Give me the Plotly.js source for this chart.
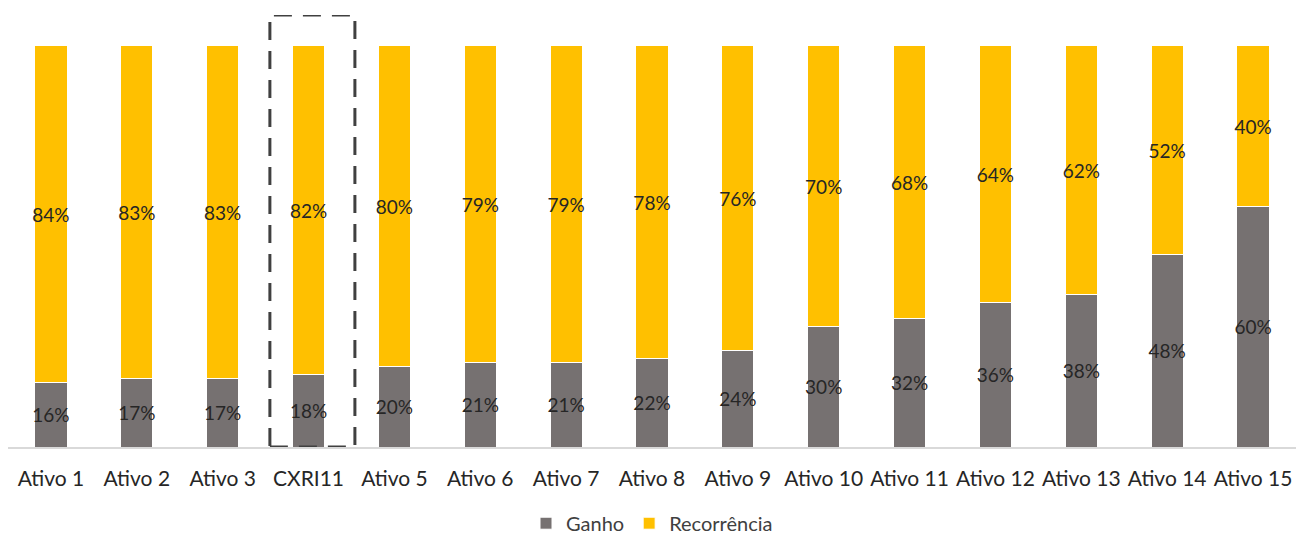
<!DOCTYPE html>
<html>
<head>
<meta charset="utf-8">
<script src="https://cdn.plot.ly/plotly-3.0.1.min.js"></script>
<style>html,body{margin:0;padding:0;background:#fff;}#chart{width:1296px;height:537px;}</style>
</head>
<body>
<div id="chart"></div>
<script>
const categories = ["Ativo 1","Ativo 2","Ativo 3","CXRI11","Ativo 5","Ativo 6","Ativo 7","Ativo 8","Ativo 9","Ativo 10","Ativo 11","Ativo 12","Ativo 13","Ativo 14","Ativo 15"];
const ganho = [16,17,17,18,20,21,21,22,24,30,32,36,38,48,60];
const recorrencia = [84,83,83,82,80,79,79,78,76,70,68,64,62,52,40];
const highlight = "CXRI11";

const FONT = "Lato, 'Open Sans', sans-serif";
const TXT = "#262626";

const common = {
  type: 'bar',
  x: categories,
  width: 0.375,
  textposition: 'inside',
  insidetextanchor: 'middle',
  textangle: 0,
  texttemplate: '%{y}%',
  textfont: {family: FONT, size: 19, color: TXT},
  hoverinfo: 'skip'
};

const traces = [
  Object.assign({}, common, {name: 'Ganho', y: ganho, marker: {color: '#767171', line: {color: '#ffffff', width: 1}}}),
  Object.assign({}, common, {name: 'Recorrência', y: recorrencia, marker: {color: '#FFC000', line: {color: '#ffffff', width: 1}}})
];

const hi = categories.indexOf(highlight);

const layout = {
  width: 1296, height: 537,
  margin: {l: 8, r: 0, t: 15, b: 90, autoexpand: false},
  barmode: 'stack',
  paper_bgcolor: '#fff', plot_bgcolor: '#fff',
  font: {family: FONT, color: TXT},
  uniformtext: {mode: 'show', minsize: 19},
  xaxis: {
    type: 'category', showline: true, linecolor: '#d9d9d9', linewidth: 2,
    ticks: '', showgrid: false, zeroline: false, automargin: false,
    tickfont: {family: FONT, size: 21, color: TXT}, ticklabelstandoff: 12
  },
  yaxis: {range: [0, 107.7], visible: false, showgrid: false, zeroline: false, automargin: false},
  showlegend: true,
  legend: {orientation: 'h', x: 0.5, xanchor: 'center', yref: 'container', y: 0.062, yanchor: 'top',
           font: {family: FONT, size: 20, color: '#404040'}, traceorder: 'normal', itemwidth: 30},
  shapes: [{
    type: 'rect', xref: 'x', yref: 'y',
    x0: hi - 0.45, x1: hi + 0.54, y0: 0, y1: 107.7,
    line: {color: '#404040', width: 3, dash: '18px,11px'}, fillcolor: 'rgba(0,0,0,0)', layer: 'above'
  }]
};

Plotly.newPlot('chart', traces, layout, {staticPlot: true, displayModeBar: false});
</script>
</body>
</html>
